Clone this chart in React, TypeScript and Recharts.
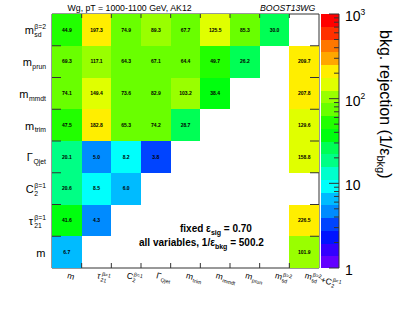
import { ScatterChart, Scatter, XAxis, YAxis, ReferenceArea } from 'recharts'

const FONT = '"Liberation Sans", Arial, Helvetica, sans-serif'
const FRAME = '#333'

// background rejection 1/eps_bkg, one list per row (bottom row first), columns in colLabels order
const rejM = [6.7, null, null, null, null, null, null, null, 101.9]
const rejTau21 = [41.6, 4.3, null, null, null, null, null, null, 226.5]
const rejC2 = [20.6, 8.5, 6.0, null, null, null, null, null, null]
const rejQjet = [20.1, 5.0, 8.2, 3.8, null, null, null, null, 158.8]
const rejTrim = [47.5, 182.8, 65.3, 74.2, 28.7, null, null, null, 129.6]
const rejMmdt = [74.1, 149.4, 73.6, 82.9, 103.2, 38.4, null, null, 207.8]
const rejPrun = [69.3, 117.1, 64.3, 67.1, 64.4, 49.7, 26.2, null, 209.7]
const rejSd = [44.9, 197.3, 74.9, 89.3, 67.7, 125.5, 85.3, 30.0, null]

const rows = [rejM, rejTau21, rejC2, rejQjet, rejTrim, rejMmdt, rejPrun, rejSd]

type Seg = { t: string; sub?: string; sup?: string }

const colLabels: Seg[][] = [
  [{ t: 'm' }],
  [{ t: 'τ', sub: '21', sup: 'β=1' }],
  [{ t: 'C', sub: '2', sup: 'β=1' }],
  [{ t: 'Γ', sub: 'Qjet' }],
  [{ t: 'm', sub: 'trim' }],
  [{ t: 'm', sub: 'mmdt' }],
  [{ t: 'm', sub: 'prun' }],
  [{ t: 'm', sub: 'sd', sup: 'β=2' }],
  [{ t: 'm', sub: 'sd', sup: 'β=2' }, { t: '+C', sub: '2', sup: 'β=1' }],
]
const rowLabels = colLabels.slice(0, 8)

const colTicks = [0.5, 1.5, 2.5, 3.5, 4.5, 5.5, 6.5, 7.5, 8.5]
const rowTicks = [0.5, 1.5, 2.5, 3.5, 4.5, 5.5, 6.5, 7.5]
const zTicks = [1, 2, 3, 4, 5, 6, 7, 8, 9, 10, 20, 30, 40, 50, 60, 70, 80, 90, 100, 200, 300, 400, 500, 600, 700, 800, 900, 1000]

const cells = rows.flatMap((vals, r) =>
  vals.flatMap((v, c) => (v == null ? [] : [{ x: c + 0.5, y: r + 0.5, z: v }]))
)

// layout
const W = 399
const H = 309
const PLOT_L = 52
const PLOT_R = 319
const PLOT_T = 14
const PLOT_B = 268
const CELL_W = (PLOT_R - PLOT_L) / 9
const CELL_H = (PLOT_B - PLOT_T) / 8

// ROOT "pretty" palette, 20 log contours
const N_CONT = 20
const Z_LO = Math.log10(0.97)
const Z_HI = 3
const contColor = (k: number) => {
  const idx = Math.floor(((k + 0.99) * 50) / N_CONT)
  const hue = 280 - (idx + 1) * 5.6
  return `hsl(${hue}, 100%, 50%)`
}
const zColor = (z: number) => {
  const k = Math.floor(((Math.log10(z) - Z_LO) / (Z_HI - Z_LO)) * N_CONT)
  return contColor(Math.max(0, Math.min(N_CONT - 1, k)))
}
const bands = Array.from({ length: N_CONT }, (_, k) => ({
  lo: Math.max(1, Math.pow(10, Z_LO + (k * (Z_HI - Z_LO)) / N_CONT)),
  hi: Math.pow(10, Z_LO + ((k + 1) * (Z_HI - Z_LO)) / N_CONT),
  fill: contColor(k),
}))

const CW: Record<string, number> = {
  m: 0.833, i: 0.222, l: 0.222, j: 0.222, t: 0.278, r: 0.333, f: 0.278, s: 0.5, c: 0.5, k: 0.5,
  '.': 0.278, ',': 0.278, ' ': 0.278, '=': 0.584, '+': 0.584, 'β': 0.575, 'τ': 0.45, 'Γ': 0.56,
  C: 0.722, Q: 0.778,
}
const textW = (s: string, size: number) => [...s].reduce((a, ch) => a + (CW[ch] ?? 0.556), 0) * size

function Latex({ x, y, segs, size, anchor = 'start' }: { x: number; y: number; segs: Seg[]; size: number; anchor?: string }) {
  const ss = size * 0.62
  const widths = segs.map(
    (s) => textW(s.t, size) + 0.5 + Math.max(textW(s.sub ?? '', ss), textW(s.sup ?? '', ss))
  )
  const total = widths.reduce((a, b) => a + b, 0)
  let cx = anchor === 'end' ? x - total : x
  const out: JSX.Element[] = []
  segs.forEach((s, i) => {
    out.push(<text key={`m${i}`} x={cx} y={y} fontSize={size}>{s.t}</text>)
    const sx = cx + textW(s.t, size) + 0.5
    if (s.sup) out.push(<text key={`p${i}`} x={sx} y={y - size * 0.45} fontSize={ss}>{s.sup}</text>)
    if (s.sub) out.push(<text key={`b${i}`} x={sx} y={y + size * 0.25} fontSize={ss}>{s.sub}</text>)
    cx += widths[i]
  })
  return <g fill="#000" fontFamily={FONT}>{out}</g>
}

function renderCell(props: any) {
  const { cx, cy, payload } = props
  return (
    <g>
      <rect x={cx - CELL_W / 2} y={cy - CELL_H / 2} width={CELL_W} height={CELL_H} fill={zColor(payload.z)} shapeRendering="crispEdges" />
      <text x={cx} y={cy + 1.8} textAnchor="middle" fontSize={5} fontWeight="bold" fontFamily={FONT} fill="#000">
        {payload.z.toFixed(1)}
      </text>
    </g>
  )
}

function BottomTick(props: any) {
  const { x, index } = props
  const ly = 278
  return (
    <g>
      {index < 8 && (
        <>
          <line x1={x + CELL_W / 2} x2={x + CELL_W / 2} y1={PLOT_B} y2={PLOT_B - 5} stroke={FRAME} />
          <line x1={x + CELL_W / 2} x2={x + CELL_W / 2} y1={PLOT_T} y2={PLOT_T + 4} stroke={FRAME} />
        </>
      )}
      <g transform={`rotate(15 ${x} ${ly})`}>
        <Latex x={x} y={ly} segs={colLabels[index]} size={8.5} />
      </g>
    </g>
  )
}

function LeftTick(props: any) {
  const { y, index } = props
  return (
    <g>
      {index < 7 && (
        <>
          <line x1={PLOT_L} x2={PLOT_L + 9} y1={y - CELL_H / 2} y2={y - CELL_H / 2} stroke={FRAME} />
          <line x1={PLOT_R} x2={PLOT_R - 9} y1={y - CELL_H / 2} y2={y - CELL_H / 2} stroke={FRAME} />
        </>
      )}
      <Latex x={46} y={y + 4.5} segs={rowLabels[index]} size={11} anchor="end" />
    </g>
  )
}

// colour bar chart is placed at x = 321, its own coordinates start at 0
const CB_W = 18

function BarTick(props: any) {
  const { y, payload } = props
  const v = payload.value
  const major = v === 1 || v === 10 || v === 100 || v === 1000
  return (
    <g>
      <line x1={CB_W} x2={CB_W - (major ? 10 : 5)} y1={y} y2={y} stroke={FRAME} />
      {major && (
        <text x={CB_W + 6} y={y + 7} fontSize={14} fontFamily={FONT} fill="#000">
          {v >= 100 ? '10' : String(v)}
          {v >= 100 && (
            <tspan dy={-6.5} fontSize={8.5}>{v === 100 ? '2' : '3'}</tspan>
          )}
        </text>
      )}
    </g>
  )
}

export default function App() {
  return (
    <div style={{ position: 'absolute', left: 0, top: 0, width: W, height: H, background: '#fff', fontFamily: FONT }}>
      <div style={{ position: 'absolute', left: 0, top: 0 }}>
        <ScatterChart width={W} height={H} margin={{ top: 0, right: 0, bottom: 0, left: 0 }}>
          <Scatter data={cells} xAxisId="b" yAxisId="l" shape={renderCell} isAnimationActive={false} />
          <XAxis
            xAxisId="b"
            dataKey="x"
            type="number"
            domain={[0, 9]}
            ticks={colTicks}
            allowDataOverflow
            height={41}
            axisLine={{ stroke: FRAME }}
            tickLine={false}
            tick={(p: any) => <BottomTick {...p} />}
            interval={0}
          />
          <XAxis xAxisId="t" orientation="top" type="number" domain={[0, 9]} allowDataOverflow height={14} axisLine={{ stroke: FRAME }} tick={false} tickLine={false} />
          <YAxis
            yAxisId="l"
            dataKey="y"
            type="number"
            domain={[0, 8]}
            ticks={rowTicks}
            allowDataOverflow
            width={52}
            axisLine={{ stroke: FRAME }}
            tickLine={false}
            tick={(p: any) => <LeftTick {...p} />}
            interval={0}
          />
          <YAxis yAxisId="r" orientation="right" type="number" domain={[0, 8]} allowDataOverflow width={80} axisLine={{ stroke: FRAME }} tick={false} tickLine={false} />
        </ScatterChart>
      </div>
      <div style={{ position: 'absolute', left: 321, top: 0 }}>
        <ScatterChart width={78} height={H} margin={{ top: 14, right: 0, bottom: 41, left: 0 }}>
          <XAxis type="number" dataKey="x" domain={[0, 1]} allowDataOverflow hide />
          <YAxis
            orientation="right"
            type="number"
            dataKey="y"
            scale="log"
            domain={[1, 1000]}
            ticks={zTicks}
            allowDataOverflow
            width={78 - CB_W}
            axisLine={{ stroke: FRAME }}
            tickLine={false}
            tick={(p: any) => <BarTick {...p} />}
            interval={0}
          />
          {bands.map((b, k) => (
            <ReferenceArea
              key={k}
              x1={0}
              x2={1}
              y1={b.lo}
              y2={b.hi}
              fill={b.fill}
              fillOpacity={1}
              stroke="none"
              ifOverflow="visible"
              shapeRendering="crispEdges"
            />
          ))}
        </ScatterChart>
      </div>
      <svg width={W} height={H} style={{ position: 'absolute', left: 0, top: 0, pointerEvents: 'none' }} fontFamily={FONT}>
        <text x={67.5} y={11} fontSize={8.75} fill="#000">Wg, pT = 1000-1100 GeV, AK12</text>
        <text x={260} y={11} fontSize={8.75} fontStyle="italic" fill="#000">BOOST13WG</text>
        <text x={180} y={232} fontSize={10} fontWeight="bold" fill="#000">
          fixed ε<tspan dy={2.5} fontSize={7}>sig</tspan>
          <tspan dy={-2.5}> = 0.70</tspan>
        </text>
        <text x={139} y={246} fontSize={10} fontWeight="bold" fill="#000">
          all variables, 1/ε<tspan dy={2.5} fontSize={7}>bkg</tspan>
          <tspan dy={-2.5}> = 500.2</tspan>
        </text>
        <text x={380} y={30} fontSize={16} fill="#000" transform="rotate(90 380 30)">
          bkg. rejection (1/ε<tspan dy={3.5} fontSize={11}>bkg</tspan>
          <tspan dy={-3.5}>)</tspan>
        </text>
      </svg>
    </div>
  )
}
